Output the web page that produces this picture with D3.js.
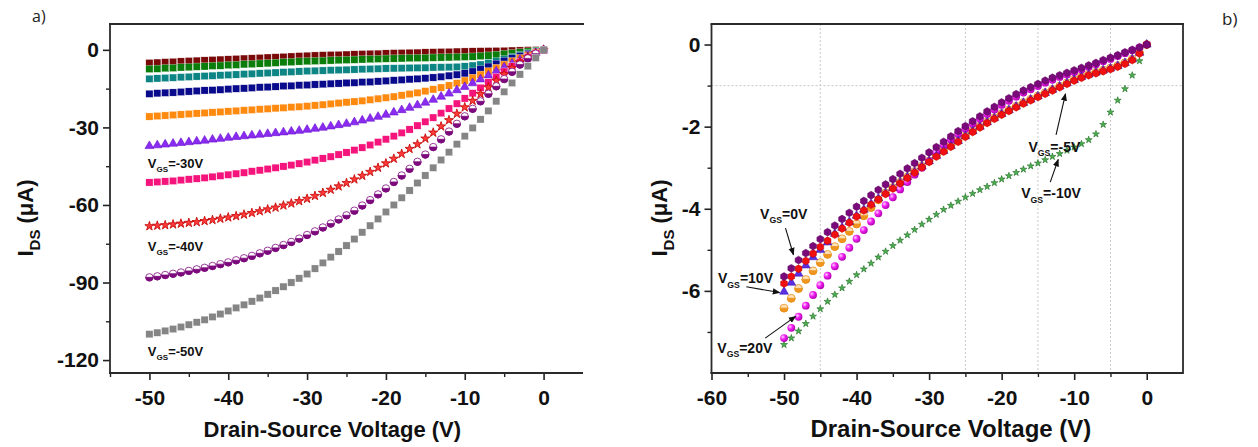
<!DOCTYPE html>
<html><head><meta charset="utf-8">
<script src="https://cdn.jsdelivr.net/npm/d3@7"></script>
<style>body{margin:0;background:#fff;}svg{display:block;}</style>
</head><body>
<svg id="c" width="1258" height="447"></svg>
<script>
// ---------------- DATA ----------------
const vds = [-50,-49,-48,-47,-46,-45,-44,-43,-42,-41,-40,-39,-38,-37,-36,-35,-34,-33,-32,-31,-30,-29,-28,-27,-26,-25,-24,-23,-22,-21,-20,-19,-18,-17,-16,-15,-14,-13,-12,-11,-10,-9,-8,-7,-6,-5,-4,-3,-2,-1,0];

// panel a) : I_DS (uA) for VGS = -5 ... -50 V
const aVgsM5  = [-5.1,-4.95,-4.8,-4.65,-4.5,-4.35,-4.2,-4.1,-3.95,-3.8,-3.7,-3.55,-3.4,-3.3,-3.15,-3.0,-2.9,-2.75,-2.6,-2.45,-2.3,-2.2,-2.1,-2.0,-1.95,-1.85,-1.75,-1.65,-1.55,-1.5,-1.4,-1.3,-1.25,-1.15,-1.1,-1.0,-0.95,-0.85,-0.8,-0.7,-0.65,-0.6,-0.55,-0.5,-0.45,-0.4,-0.3,-0.25,-0.15,-0.1,0];
const aVgsM10 = [-7.4,-7.3,-7.1,-7.0,-6.8,-6.7,-6.5,-6.4,-6.2,-6.1,-5.9,-5.8,-5.6,-5.5,-5.3,-5.2,-5.0,-4.8,-4.7,-4.5,-4.4,-4.3,-4.2,-4.1,-4.0,-3.9,-3.8,-3.7,-3.6,-3.5,-3.4,-3.35,-3.3,-3.2,-3.15,-3.1,-3.0,-2.95,-2.9,-2.8,-2.7,-2.6,-2.4,-2.2,-1.9,-1.6,-1.3,-1.0,-0.65,-0.3,0];
const aVgsM15 = [-11.2,-11.05,-10.9,-10.75,-10.6,-10.45,-10.3,-10.15,-10.0,-9.85,-9.7,-9.55,-9.4,-9.25,-9.1,-8.95,-8.8,-8.65,-8.5,-8.35,-8.2,-8.1,-8.0,-7.9,-7.8,-7.7,-7.6,-7.5,-7.4,-7.3,-7.2,-7.15,-7.1,-7.0,-6.95,-6.9,-6.8,-6.75,-6.7,-6.6,-6.4,-6.1,-5.7,-5.1,-4.4,-3.6,-2.8,-2.0,-1.3,-0.6,0];
const aVgsM20 = [-17.0,-16.8,-16.6,-16.5,-16.3,-16.1,-15.9,-15.7,-15.6,-15.4,-15.2,-15.0,-14.9,-14.7,-14.5,-14.4,-14.2,-14.0,-13.9,-13.7,-13.6,-13.4,-13.3,-13.1,-13.0,-12.8,-12.7,-12.5,-12.4,-12.2,-12.0,-11.8,-11.6,-11.4,-11.2,-11.0,-10.7,-10.4,-10.0,-9.6,-9.1,-8.4,-7.5,-6.5,-5.4,-4.3,-3.3,-2.4,-1.6,-0.8,0];
const aVgsM25 = [-25.8,-25.6,-25.4,-25.2,-25.0,-24.8,-24.6,-24.4,-24.2,-24.0,-23.8,-23.6,-23.4,-23.2,-23.0,-22.8,-22.6,-22.4,-22.2,-22.0,-21.8,-21.5,-21.2,-20.9,-20.6,-20.3,-20.0,-19.7,-19.3,-18.9,-18.5,-18.1,-17.6,-17.1,-16.6,-16.0,-15.3,-14.6,-13.8,-12.9,-11.9,-10.8,-9.6,-8.3,-7.0,-5.7,-4.4,-3.2,-2.1,-1.0,0];
const aVgsM30 = [-37.2,-36.9,-36.6,-36.3,-36.0,-35.7,-35.4,-35.1,-34.7,-34.4,-34.0,-33.7,-33.4,-33.1,-32.8,-32.5,-32.2,-31.9,-31.6,-31.3,-30.9,-30.5,-30.1,-29.6,-29.1,-28.6,-28.0,-27.3,-26.6,-25.9,-25.1,-24.2,-23.3,-22.4,-21.4,-20.4,-19.3,-18.1,-16.9,-15.6,-14.3,-12.9,-11.4,-9.9,-8.3,-6.8,-5.3,-3.9,-2.5,-1.2,0];
const aVgsM35 = [-51.3,-51.1,-50.9,-50.7,-50.4,-50.1,-49.8,-49.5,-49.1,-48.7,-48.3,-47.9,-47.5,-47.0,-46.6,-46.1,-45.6,-45.1,-44.6,-44.0,-43.4,-42.7,-42.0,-41.3,-40.5,-39.7,-38.8,-37.8,-36.8,-35.7,-34.6,-33.4,-32.1,-30.8,-29.3,-27.8,-26.2,-24.5,-22.7,-20.8,-18.8,-16.8,-14.7,-12.6,-10.5,-8.4,-6.4,-4.6,-2.9,-1.4,0];
const aVgsM40 = [-68.2,-68.0,-67.8,-67.5,-67.2,-66.9,-66.6,-66.2,-65.8,-65.3,-64.8,-64.3,-63.7,-63.1,-62.4,-61.7,-61.0,-60.2,-59.4,-58.5,-57.6,-56.5,-55.3,-54.1,-52.8,-51.5,-50.1,-48.7,-47.2,-45.6,-43.9,-42.1,-40.2,-38.3,-36.5,-34.3,-32.0,-29.6,-27.2,-24.7,-22.2,-19.7,-17.1,-14.5,-11.9,-9.4,-7.0,-4.8,-2.9,-1.3,0];
const aVgsM45 = [-88.0,-87.6,-87.1,-86.6,-86.1,-85.5,-84.9,-84.3,-83.6,-82.9,-82.2,-81.4,-80.6,-79.7,-78.7,-77.7,-76.6,-75.5,-74.3,-73.0,-71.6,-70.2,-68.7,-67.2,-65.6,-64.0,-62.2,-60.2,-58.1,-55.9,-53.6,-51.1,-48.6,-46.0,-43.3,-40.5,-37.6,-34.6,-31.6,-28.6,-25.7,-22.8,-19.9,-17.0,-14.1,-11.3,-8.5,-5.7,-3.3,-1.5,0];
const aVgsM50 = [-110.0,-109.4,-108.7,-108.0,-107.2,-106.3,-105.4,-104.4,-103.3,-102.2,-101.0,-99.8,-98.6,-97.3,-96.0,-94.6,-93.1,-91.6,-90.0,-88.4,-86.7,-84.6,-82.4,-80.2,-78.0,-75.7,-73.2,-70.6,-68.0,-65.4,-62.7,-60.0,-57.2,-54.4,-51.5,-48.6,-45.6,-42.6,-39.6,-36.5,-33.4,-30.2,-26.9,-23.6,-19.9,-16.2,-12.8,-9.5,-6.3,-3.1,0];

// panel b) : I_DS (uA) for VGS = 0, -5, 10, 15, 20, -10 V
const bVgs0   = [-5.65,-5.45,-5.25,-5.08,-4.91,-4.74,-4.57,-4.41,-4.25,-4.10,-3.95,-3.81,-3.67,-3.54,-3.41,-3.28,-3.15,-3.02,-2.89,-2.76,-2.63,-2.50,-2.37,-2.24,-2.11,-1.99,-1.87,-1.75,-1.63,-1.52,-1.41,-1.31,-1.21,-1.12,-1.04,-0.96,-0.88,-0.81,-0.75,-0.69,-0.63,-0.57,-0.51,-0.45,-0.38,-0.32,-0.26,-0.19,-0.13,-0.07,0];
const bVgsM5  = [-5.82,-5.65,-5.46,-5.27,-5.09,-4.93,-4.78,-4.63,-4.48,-4.34,-4.19,-4.04,-3.90,-3.77,-3.64,-3.51,-3.38,-3.25,-3.12,-2.99,-2.86,-2.73,-2.61,-2.49,-2.37,-2.25,-2.13,-2.02,-1.91,-1.81,-1.71,-1.62,-1.53,-1.44,-1.36,-1.28,-1.20,-1.12,-1.04,-0.96,-0.88,-0.81,-0.75,-0.70,-0.65,-0.60,-0.54,-0.47,-0.38,-0.22,0];
const bVgs10  = [-6.02,-5.80,-5.58,-5.38,-5.18,-5.00,-4.82,-4.61,-4.46,-4.32,-4.17,-4.02,-3.88,-3.75,-3.62,-3.49,-3.36,-3.23,-3.10,-2.97,-2.84,-2.71,-2.59,-2.47,-2.35,-2.23,-2.11,-2.00,-1.89,-1.79,-1.69,-1.60,-1.51,-1.42,-1.34,-1.26,-1.18,-1.10,-1.02,-0.94,-0.86,-0.79,-0.73,-0.68,-0.63,-0.58,-0.52,-0.45,-0.36,-0.20,0];
const bVgs15  = [-6.42,-6.18,-5.94,-5.72,-5.51,-5.31,-5.11,-4.92,-4.73,-4.55,-4.37,-4.17,-3.97,-3.78,-3.61,-3.48,-3.35,-3.22,-3.09,-2.96,-2.83,-2.70,-2.58,-2.46,-2.34,-2.22,-2.10,-1.99,-1.88,-1.78,-1.68,-1.59,-1.50,-1.41,-1.33,-1.25,-1.17,-1.09,-1.01,-0.93,-0.85,-0.78,-0.72,-0.67,-0.62,-0.57,-0.51,-0.44,-0.35,-0.19,0];
const bVgs20  = [-7.15,-6.90,-6.63,-6.36,-6.10,-5.86,-5.63,-5.40,-5.17,-4.95,-4.73,-4.52,-4.31,-4.11,-3.91,-3.72,-3.53,-3.35,-3.17,-3.00,-2.84,-2.63,-2.45,-2.31,-2.18,-2.05,-1.93,-1.81,-1.69,-1.58,-1.47,-1.37,-1.27,-1.17,-1.09,-1.01,-0.93,-0.86,-0.79,-0.73,-0.67,-0.61,-0.54,-0.48,-0.41,-0.35,-0.28,-0.21,-0.14,-0.07,0];
const bVgsM10 = [-7.31,-7.15,-6.98,-6.80,-6.62,-6.44,-6.26,-6.09,-5.93,-5.77,-5.61,-5.47,-5.33,-5.18,-5.04,-4.90,-4.77,-4.64,-4.51,-4.38,-4.26,-4.14,-4.02,-3.92,-3.82,-3.72,-3.63,-3.54,-3.46,-3.37,-3.28,-3.20,-3.12,-3.04,-2.96,-2.89,-2.81,-2.73,-2.66,-2.58,-2.50,-2.42,-2.32,-2.18,-1.95,-1.65,-1.36,-1.08,-0.75,-0.40,0];

// ticks
const aXTicks = [-50,-40,-30,-20,-10,0];
const aXMinor = [-55,-45,-35,-25,-15,-5];
const aYTicks = [0,-30,-60,-90,-120];
const aYMinor = [-15,-45,-75,-105];
const bXTicks = [-60,-50,-40,-30,-20,-10,0];
const bXMinor = [-55,-45,-35,-25,-15,-5];
const bYTicks = [0,-2,-4,-6];
const bYMinor = [-1,-3,-5,-7];
const bGridX = [-45,-25,-15,-5];
const bGridY = [-1];

// ---------------- DRAWING ----------------
const FONT = '"Liberation Sans", Arial, Helvetica, sans-serif';
const svg = d3.select('#c').style('font-family', FONT);
const defs = svg.append('defs');
const grad = defs.append('radialGradient').attr('id','mag').attr('cx','35%').attr('cy','35%').attr('r','70%');
grad.append('stop').attr('offset','0%').attr('stop-color','#ffd0ff');
grad.append('stop').attr('offset','45%').attr('stop-color','#f020f0');
grad.append('stop').attr('offset','100%').attr('stop-color','#b000b0');
const arrowM = defs.append('marker').attr('id','arr').attr('viewBox','0 0 10 10').attr('refX',9).attr('refY',5)
  .attr('markerWidth',7).attr('markerHeight',7).attr('orient','auto-start-reverse');
arrowM.append('path').attr('d','M0,1 L10,5 L0,9 Z').attr('fill','#111');

const xL = d3.scaleLinear().domain([-55,5]).range([110,583]);
const yL = d3.scaleLinear().domain([-125,10]).range([373,24]);
const xR = d3.scaleLinear().domain([-60,5]).range([711.5,1183]);
const yR = d3.scaleLinear().domain([-8,0.5]).range([373,24]);

const hexType = { draw(ctx, size){ const r = Math.sqrt(size/2.598);
  for (let i=0;i<6;i++){ const a=Math.PI/3*i-Math.PI/2; const px=r*Math.cos(a), py=r*Math.sin(a); if(i) ctx.lineTo(px,py); else ctx.moveTo(px,py);} ctx.closePath(); } };

function axes(x, y, xt, xm, yt, ym, fs, borders) {
  const h = y.range()[0], top = y.range()[1], l = x.range()[0], r = x.range()[1];
  const gx = svg.append('g').attr('transform',`translate(0,${h})`)
    .call(d3.axisBottom(x).tickValues(xt).tickSize(7).tickFormat(d=>String(d)));
  gx.select('.domain').remove();
  gx.selectAll('line').attr('stroke','#222').attr('stroke-width',1.6);
  gx.selectAll('text').attr('y',32).attr('dy',0).attr('font-size',fs).attr('font-weight','bold').attr('fill','#111').attr('font-family',FONT);
  const gxm = svg.append('g').attr('transform',`translate(0,${h})`)
    .call(d3.axisBottom(x).tickValues(xm).tickSize(4).tickFormat(''));
  gxm.select('.domain').remove();
  gxm.selectAll('line').attr('stroke','#222').attr('stroke-width',1.4);
  const gy = svg.append('g').attr('transform',`translate(${l},0)`)
    .call(d3.axisLeft(y).tickValues(yt).tickSize(7).tickPadding(4).tickFormat(d=>String(d)));
  gy.select('.domain').remove();
  gy.selectAll('line').attr('stroke','#222').attr('stroke-width',1.6);
  gy.selectAll('text').attr('font-size',fs).attr('font-weight','bold').attr('fill','#111').attr('font-family',FONT);
  const gym = svg.append('g').attr('transform',`translate(${l},0)`)
    .call(d3.axisLeft(y).tickValues(ym).tickSize(4).tickFormat(''));
  gym.select('.domain').remove();
  gym.selectAll('line').attr('stroke','#222').attr('stroke-width',1.4);
  const fr = svg.append('g').attr('stroke','#2a2a2a').attr('stroke-width',1.8).attr('fill','none');
  fr.append('line').attr('x1',l).attr('x2',l).attr('y1',top).attr('y2',h+1);
  fr.append('line').attr('x1',l-1).attr('x2',r).attr('y1',h).attr('y2',h);
  fr.append('line').attr('x1',l-1).attr('x2',r+1).attr('y1',top).attr('y2',top);
  if (borders) fr.append('line').attr('x1',r).attr('x2',r).attr('y1',top).attr('y2',h+1);
}

function pts(g, vals) { return g.selectAll(null).data(vds.map((v,i)=>({v, c: vals[i]}))).enter(); }

function squares(x,y,vals,color){
  const g = svg.append('g');
  pts(g,vals).append('rect').attr('x',d=>x(d.v)-3.6).attr('y',d=>y(d.c)-3.6).attr('width',7.2).attr('height',7.2)
    .attr('fill',color).attr('stroke','#fff').attr('stroke-width',0.3);
}
function symbols(x,y,vals,type,size,fill,stroke,sw){
  const g = svg.append('g');
  const sym = d3.symbol().type(type).size(size);
  pts(g,vals).append('path').attr('transform',d=>`translate(${x(d.v)},${y(d.c)})`).attr('d',sym())
    .attr('fill',fill).attr('stroke',stroke).attr('stroke-width',sw);
}
function halfCircles(x,y,vals,r,topFill,botFill,stroke){
  const g = svg.append('g');
  const e = pts(g,vals).append('g').attr('transform',d=>`translate(${x(d.v)},${y(d.c)})`);
  e.append('circle').attr('r',r).attr('fill',topFill).attr('stroke',stroke).attr('stroke-width',0.8);
  e.append('path').attr('d',`M${-r},0 A${r},${r} 0 0 0 ${r},0 Z`).attr('fill',botFill).attr('stroke',stroke).attr('stroke-width',0.8);
}
function vgsLabel(x, y, vx, vy, rest, fs){
  const t = svg.append('text').attr('x',x(vx)).attr('y',y(vy)).attr('font-size',fs).attr('font-weight','bold').attr('fill','#111');
  t.append('tspan').text('V');
  t.append('tspan').attr('font-size',fs*0.62).attr('dy',fs*0.32).text('GS');
  t.append('tspan').attr('dy',-fs*0.32).text(rest);
}
function arrow(x,y,v1,c1,v2,c2){
  svg.append('line').attr('x1',x(v1)).attr('y1',y(c1)).attr('x2',x(v2)).attr('y2',y(c2))
    .attr('stroke','#111').attr('stroke-width',1.1).attr('marker-end','url(#arr)');
}
function yTitle(px, py, fs){
  const t = svg.append('text').attr('transform',`translate(${px},${py}) rotate(-90)`).attr('text-anchor','middle')
    .attr('font-size',fs).attr('font-weight','bold').attr('fill','#111');
  t.append('tspan').text('I');
  t.append('tspan').attr('font-size',fs*0.68).attr('dy',fs*0.3).text('DS');
  t.append('tspan').attr('dy',-fs*0.3).text(' (\u03BCA)');
}

// ===== panel a =====
axes(xL, yL, aXTicks, aXMinor, aYTicks, aYMinor, 21, false);
squares(xL,yL,aVgsM5,'#7a0a0a');
squares(xL,yL,aVgsM10,'#0a7d0a');
squares(xL,yL,aVgsM15,'#0d8585');
squares(xL,yL,aVgsM20,'#0a0a8c');
squares(xL,yL,aVgsM25,'#ff8a10');
symbols(xL,yL,aVgsM30,d3.symbolTriangle,34,'#8a2cf0','#6a10d0',0.6);
squares(xL,yL,aVgsM35,'#f5147c');
symbols(xL,yL,aVgsM40,d3.symbolStar,26,'#ff3a3a','#c00000',0.8);
halfCircles(xL,yL,aVgsM45,3.7,'#ffffff','#7d0a7d','#7d0a7d');
squares(xL,yL,aVgsM50,'#858585');

vgsLabel(xL,yL,-50.2,-45.7,'=-30V',13);
vgsLabel(xL,yL,-50.2,-77.8,'=-40V',13);
vgsLabel(xL,yL,-50.2,-118.5,'=-50V',13);

svg.append('text').attr('x',xL(-26.8)).attr('y',437).attr('text-anchor','middle').attr('font-size',22).attr('font-weight','bold').attr('fill','#111').text('Drain-Source Voltage (V)');
yTitle(33, 218, 22);
svg.append('text').attr('x',32).attr('y',22).attr('font-size',16).attr('fill','#222').attr('font-family','"Open Sans", "Liberation Sans", sans-serif').text('a)');

// ===== panel b =====
const gg = svg.append('g').attr('stroke','#c8c8c8').attr('stroke-width',1).attr('stroke-dasharray','2,2');
gg.selectAll(null).data(bGridX).enter().append('line').attr('x1',d=>xR(d)).attr('x2',d=>xR(d)).attr('y1',yR(0.5)).attr('y2',yR(-8));
gg.selectAll(null).data(bGridY).enter().append('line').attr('y1',d=>yR(d)).attr('y2',d=>yR(d)).attr('x1',xR(-60)).attr('x2',xR(5));
axes(xR, yR, bXTicks, bXMinor, bYTicks, bYMinor, 21, true);

symbols(xR,yR,bVgsM10,d3.symbolStar,15,'#4caf50','#1e6a22',0.6);
halfCircles(xR,yR,bVgs15,3.9,'#ffe2b8','#f0961e','#e8901c');
const gm = svg.append('g');
gm.selectAll(null).data(vds.map((v,i)=>({v,c:bVgs20[i]}))).enter().append('circle')
  .attr('cx',d=>xR(d.v)).attr('cy',d=>yR(d.c)).attr('r',3.9).attr('fill','url(#mag)');
symbols(xR,yR,bVgs10,d3.symbolTriangle,34,'#5a30e0','#3a10b0',0.5);
symbols(xR,yR,bVgsM5,hexType,40,'#f01010','#c00000',0.5);
symbols(xR,yR,bVgs0,hexType,40,'#7a0a7a','#5a005a',0.5);

vgsLabel(xR,yR,-53.3,-4.24,'=0V',14);
arrow(xR,yR,-49.8,-4.47,-48.7,-5.12);
vgsLabel(xR,yR,-59.1,-5.81,'=10V',14);
arrow(xR,yR,-55.2,-5.9,-50.6,-6.04);
vgsLabel(xR,yR,-59.2,-7.51,'=20V',14);
arrow(xR,yR,-52.6,-7.15,-48.4,-6.62);
vgsLabel(xR,yR,-16.3,-2.61,'=-5V',14);
arrow(xR,yR,-12.5,-2.2,-11.2,-1.2);
vgsLabel(xR,yR,-17.3,-3.74,'=-10V',14);
arrow(xR,yR,-13.3,-3.35,-12.2,-2.8);

svg.append('text').attr('x',xR(-27)).attr('y',437).attr('text-anchor','middle').attr('font-size',24).attr('font-weight','bold').attr('fill','#111').text('Drain-Source Voltage (V)');
yTitle(667, 218, 22);
svg.append('text').attr('x',1222).attr('y',25).attr('font-size',17).attr('fill','#222').attr('font-family','"Open Sans", "Liberation Sans", sans-serif').text('b)');
</script>
</body></html>
